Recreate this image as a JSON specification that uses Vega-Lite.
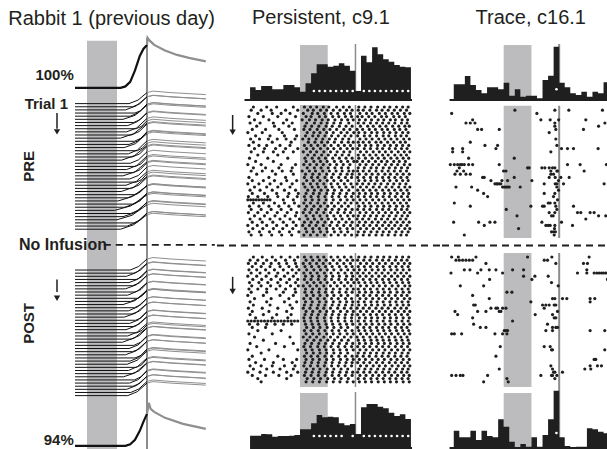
{
"$schema": "https://vega.github.io/schema/vega-lite/v6.json",
"background": "white",
"padding": 0,
"spacing": 0,
"config": {"view": {"stroke": null}, "concat": {"spacing": 0}},
"datasets": {
"eyeAvg": [
{"r":0,"s":"C","t":[-100,280,320,360,400,440,470,500],"a":[0,0,0.03,0.12,0.35,0.64,0.78,0.86]},
{"r":0,"s":"U","t":[500,505,520,560,650,750,850,990],"a":[0.86,1,0.95,0.86,0.75,0.66,0.6,0.53]},
{"r":114,"s":"C","t":[-100,320,360,400,440,470,500],"a":[0,0,0.03,0.12,0.3,0.48,0.64]},
{"r":114,"s":"U","t":[500,515,530,560,650,800,990],"a":[0.64,0.86,0.74,0.68,0.56,0.44,0.34]}
],
"eyeTrials": [
{"r":5,"s":"C","t":[-100,350,425,500],"a":[0,0,0.07,0.22]},{"r":5,"s":"U","t":[500,550,700,990],"a":[0.22,0.25,0.22,0.18]},
{"r":6,"s":"C","t":[-100,380,440,500],"a":[0,0,0.06,0.2]},{"r":6,"s":"U","t":[500,550,700,990],"a":[0.2,0.23,0.2,0.16]},
{"r":7,"s":"C","t":[-100,320,410,500],"a":[0,0,0.08,0.26]},{"r":7,"s":"U","t":[500,550,700,990],"a":[0.26,0.29,0.26,0.22]},
{"r":8,"s":"C","t":[-100,400,450,500],"a":[0,0,0.05,0.18]},{"r":8,"s":"U","t":[500,550,700,990],"a":[0.18,0.21,0.18,0.14]},
{"r":9,"s":"C","t":[-100,360,430,500],"a":[0,0,0.07,0.24]},{"r":9,"s":"U","t":[500,550,700,990],"a":[0.24,0.27,0.24,0.2]},
{"r":10,"s":"C","t":[-100,300,400,500],"a":[0,0,0.08,0.28]},{"r":10,"s":"U","t":[500,550,700,990],"a":[0.28,0.31,0.28,0.24]},
{"r":11,"s":"C","t":[-100,390,445,500],"a":[0,0,0.06,0.2]},{"r":11,"s":"U","t":[500,550,700,990],"a":[0.2,0.23,0.2,0.16]},
{"r":12,"s":"C","t":[-100,340,420,500],"a":[0,0,0.08,0.25]},{"r":12,"s":"U","t":[500,550,700,990],"a":[0.25,0.28,0.25,0.21]},
{"r":13,"s":"C","t":[-100,410,455,500],"a":[0,0,0.05,0.16]},{"r":13,"s":"U","t":[500,550,700,990],"a":[0.16,0.19,0.16,0.12]},
{"r":14,"s":"C","t":[-100,330,415,500],"a":[0,0,0.08,0.27]},{"r":14,"s":"U","t":[500,550,700,990],"a":[0.27,0.3,0.27,0.23]},
{"r":15,"s":"C","t":[-100,370,435,500],"a":[0,0,0.07,0.22]},{"r":15,"s":"U","t":[500,550,700,990],"a":[0.22,0.25,0.22,0.18]},
{"r":16,"s":"C","t":[-100,280,390,500],"a":[0,0,0.09,0.3]},{"r":16,"s":"U","t":[500,550,700,990],"a":[0.3,0.33,0.3,0.26]},
{"r":17,"s":"C","t":[-100,395,448,500],"a":[0,0,0.06,0.19]},{"r":17,"s":"U","t":[500,550,700,990],"a":[0.19,0.22,0.19,0.15]},
{"r":18,"s":"C","t":[-100,350,425,500],"a":[0,0,0.07,0.24]},{"r":18,"s":"U","t":[500,550,700,990],"a":[0.24,0.27,0.24,0.2]},
{"r":19,"s":"C","t":[-100,310,405,500],"a":[0,0,0.08,0.28]},{"r":19,"s":"U","t":[500,550,700,990],"a":[0.28,0.31,0.28,0.24]},
{"r":20,"s":"C","t":[-100,420,460,500],"a":[0,0,0.05,0.15]},{"r":20,"s":"U","t":[500,550,700,990],"a":[0.15,0.18,0.15,0.11]},
{"r":21,"s":"C","t":[-100,345,422,500],"a":[0,0,0.08,0.26]},{"r":21,"s":"U","t":[500,550,700,990],"a":[0.26,0.29,0.26,0.22]},
{"r":22,"s":"C","t":[-100,375,438,500],"a":[0,0,0.06,0.21]},{"r":22,"s":"U","t":[500,550,700,990],"a":[0.21,0.24,0.21,0.17]},
{"r":23,"s":"C","t":[-100,290,395,500],"a":[0,0,0.09,0.29]},{"r":23,"s":"U","t":[500,550,700,990],"a":[0.29,0.32,0.29,0.25]},
{"r":24,"s":"C","t":[-100,360,430,500],"a":[0,0,0.07,0.23]},{"r":24,"s":"U","t":[500,550,700,990],"a":[0.23,0.26,0.23,0.19]},
{"r":25,"s":"C","t":[-100,400,450,500],"a":[0,0,0.05,0.18]},{"r":25,"s":"U","t":[500,550,700,990],"a":[0.18,0.21,0.18,0.14]},
{"r":26,"s":"C","t":[-100,330,415,500],"a":[0,0,0.08,0.27]},{"r":26,"s":"U","t":[500,550,700,990],"a":[0.27,0.3,0.27,0.23]},
{"r":27,"s":"C","t":[-100,385,442,500],"a":[0,0,0.06,0.2]},{"r":27,"s":"U","t":[500,550,700,990],"a":[0.2,0.23,0.2,0.16]},
{"r":28,"s":"C","t":[-100,300,400,500],"a":[0,0,0.08,0.28]},{"r":28,"s":"U","t":[500,550,700,990],"a":[0.28,0.31,0.28,0.24]},
{"r":29,"s":"C","t":[-100,355,428,500],"a":[0,0,0.07,0.24]},{"r":29,"s":"U","t":[500,550,700,990],"a":[0.24,0.27,0.24,0.2]},
{"r":30,"s":"C","t":[-100,410,455,500],"a":[0,0,0.05,0.17]},{"r":30,"s":"U","t":[500,550,700,990],"a":[0.17,0.2,0.17,0.13]},
{"r":31,"s":"C","t":[-100,325,412,500],"a":[0,0,0.08,0.27]},{"r":31,"s":"U","t":[500,550,700,990],"a":[0.27,0.3,0.27,0.23]},
{"r":32,"s":"C","t":[-100,370,435,500],"a":[0,0,0.07,0.22]},{"r":32,"s":"U","t":[500,550,700,990],"a":[0.22,0.25,0.22,0.18]},
{"r":33,"s":"C","t":[-100,285,392,500],"a":[0,0,0.09,0.3]},{"r":33,"s":"U","t":[500,550,700,990],"a":[0.3,0.33,0.3,0.26]},
{"r":34,"s":"C","t":[-100,395,448,500],"a":[0,0,0.06,0.19]},{"r":34,"s":"U","t":[500,550,700,990],"a":[0.19,0.22,0.19,0.15]},
{"r":35,"s":"C","t":[-100,340,420,500],"a":[0,0,0.08,0.25]},{"r":35,"s":"U","t":[500,550,700,990],"a":[0.25,0.28,0.25,0.21]},
{"r":36,"s":"C","t":[-100,260,380,500],"a":[0,0,0.09,0.3]},{"r":36,"s":"U","t":[500,550,700,990],"a":[0.3,0.33,0.3,0.26]},
{"r":37,"s":"C","t":[-100,380,440,500],"a":[0,0,0.06,0.21]},{"r":37,"s":"U","t":[500,550,700,990],"a":[0.21,0.24,0.21,0.17]},
{"r":38,"s":"C","t":[-100,315,408,500],"a":[0,0,0.08,0.28]},{"r":38,"s":"U","t":[500,550,700,990],"a":[0.28,0.31,0.28,0.24]},
{"r":39,"s":"C","t":[-100,230,365,500],"a":[0,0,0.09,0.31]},{"r":39,"s":"U","t":[500,550,700,990],"a":[0.31,0.34,0.31,0.27]},
{"r":40,"s":"C","t":[-100,365,432,500],"a":[0,0,0.07,0.23]},{"r":40,"s":"U","t":[500,550,700,990],"a":[0.23,0.26,0.23,0.19]},
{"r":41,"s":"C","t":[-100,300,400,500],"a":[0,0,0.08,0.28]},{"r":41,"s":"U","t":[500,550,700,990],"a":[0.28,0.31,0.28,0.24]},
{"r":42,"s":"C","t":[-100,250,375,500],"a":[0,0,0.09,0.3]},{"r":42,"s":"U","t":[500,550,700,990],"a":[0.3,0.33,0.3,0.26]},
{"r":43,"s":"C","t":[-100,390,445,500],"a":[0,0,0.06,0.2]},{"r":43,"s":"U","t":[500,550,700,990],"a":[0.2,0.23,0.2,0.16]},
{"r":44,"s":"C","t":[-100,335,418,500],"a":[0,0,0.08,0.26]},{"r":44,"s":"U","t":[500,550,700,990],"a":[0.26,0.29,0.26,0.22]},
{"r":45,"s":"C","t":[-100,280,390,500],"a":[0,0,0.09,0.29]},{"r":45,"s":"U","t":[500,550,700,990],"a":[0.29,0.32,0.29,0.25]},
{"r":58,"s":"C","t":[-100,360,430,500],"a":[0,0,0.07,0.22]},{"r":58,"s":"U","t":[500,550,700,990],"a":[0.22,0.25,0.22,0.18]},
{"r":59,"s":"C","t":[-100,390,445,500],"a":[0,0,0.06,0.19]},{"r":59,"s":"U","t":[500,550,700,990],"a":[0.19,0.22,0.19,0.15]},
{"r":60,"s":"C","t":[-100,330,415,500],"a":[0,0,0.08,0.26]},{"r":60,"s":"U","t":[500,550,700,990],"a":[0.26,0.29,0.26,0.22]},
{"r":61,"s":"C","t":[-100,410,455,500],"a":[0,0,0.05,0.17]},{"r":61,"s":"U","t":[500,550,700,990],"a":[0.17,0.2,0.17,0.13]},
{"r":62,"s":"C","t":[-100,350,425,500],"a":[0,0,0.07,0.24]},{"r":62,"s":"U","t":[500,550,700,990],"a":[0.24,0.27,0.24,0.2]},
{"r":63,"s":"C","t":[-100,380,440,500],"a":[0,0,0.06,0.21]},{"r":63,"s":"U","t":[500,550,700,990],"a":[0.21,0.24,0.21,0.17]},
{"r":64,"s":"C","t":[-100,320,410,500],"a":[0,0,0.08,0.27]},{"r":64,"s":"U","t":[500,550,700,990],"a":[0.27,0.3,0.27,0.23]},
{"r":65,"s":"C","t":[-100,400,450,500],"a":[0,0,0.05,0.18]},{"r":65,"s":"U","t":[500,550,700,990],"a":[0.18,0.21,0.18,0.14]},
{"r":66,"s":"C","t":[-100,340,420,500],"a":[0,0,0.08,0.25]},{"r":66,"s":"U","t":[500,550,700,990],"a":[0.25,0.28,0.25,0.21]},
{"r":67,"s":"C","t":[-100,420,460,500],"a":[0,0,0.05,0.15]},{"r":67,"s":"U","t":[500,550,700,990],"a":[0.15,0.18,0.15,0.11]},
{"r":68,"s":"C","t":[-100,365,432,500],"a":[0,0,0.07,0.23]},{"r":68,"s":"U","t":[500,550,700,990],"a":[0.23,0.26,0.23,0.19]},
{"r":69,"s":"C","t":[-100,300,400,500],"a":[0,0,0.08,0.28]},{"r":69,"s":"U","t":[500,550,700,990],"a":[0.28,0.31,0.28,0.24]},
{"r":70,"s":"C","t":[-100,395,448,500],"a":[0,0,0.06,0.19]},{"r":70,"s":"U","t":[500,550,700,990],"a":[0.19,0.22,0.19,0.15]},
{"r":71,"s":"C","t":[-100,345,422,500],"a":[0,0,0.08,0.25]},{"r":71,"s":"U","t":[500,550,700,990],"a":[0.25,0.28,0.25,0.21]},
{"r":72,"s":"C","t":[-100,375,438,500],"a":[0,0,0.06,0.21]},{"r":72,"s":"U","t":[500,550,700,990],"a":[0.21,0.24,0.21,0.17]},
{"r":73,"s":"C","t":[-100,310,405,500],"a":[0,0,0.08,0.27]},{"r":73,"s":"U","t":[500,550,700,990],"a":[0.27,0.3,0.27,0.23]},
{"r":74,"s":"C","t":[-100,405,452,500],"a":[0,0,0.05,0.17]},{"r":74,"s":"U","t":[500,550,700,990],"a":[0.17,0.2,0.17,0.13]},
{"r":75,"s":"C","t":[-100,355,428,500],"a":[0,0,0.07,0.24]},{"r":75,"s":"U","t":[500,550,700,990],"a":[0.24,0.27,0.24,0.2]},
{"r":76,"s":"C","t":[-100,385,442,500],"a":[0,0,0.06,0.2]},{"r":76,"s":"U","t":[500,550,700,990],"a":[0.2,0.23,0.2,0.16]},
{"r":77,"s":"C","t":[-100,325,412,500],"a":[0,0,0.08,0.26]},{"r":77,"s":"U","t":[500,550,700,990],"a":[0.26,0.29,0.26,0.22]},
{"r":78,"s":"C","t":[-100,415,458,500],"a":[0,0,0.05,0.16]},{"r":78,"s":"U","t":[500,550,700,990],"a":[0.16,0.19,0.16,0.12]},
{"r":79,"s":"C","t":[-100,340,420,500],"a":[0,0,0.08,0.25]},{"r":79,"s":"U","t":[500,550,700,990],"a":[0.25,0.28,0.25,0.21]},
{"r":80,"s":"C","t":[-100,370,435,500],"a":[0,0,0.07,0.22]},{"r":80,"s":"U","t":[500,550,700,990],"a":[0.22,0.25,0.22,0.18]},
{"r":81,"s":"C","t":[-100,295,398,500],"a":[0,0,0.09,0.29]},{"r":81,"s":"U","t":[500,550,700,990],"a":[0.29,0.32,0.29,0.25]},
{"r":82,"s":"C","t":[-100,390,445,500],"a":[0,0,0.06,0.19]},{"r":82,"s":"U","t":[500,550,700,990],"a":[0.19,0.22,0.19,0.15]},
{"r":83,"s":"C","t":[-100,350,425,500],"a":[0,0,0.07,0.24]},{"r":83,"s":"U","t":[500,550,700,990],"a":[0.24,0.27,0.24,0.2]},
{"r":84,"s":"C","t":[-100,380,440,500],"a":[0,0,0.06,0.21]},{"r":84,"s":"U","t":[500,550,700,990],"a":[0.21,0.24,0.21,0.17]},
{"r":85,"s":"C","t":[-100,320,410,500],"a":[0,0,0.08,0.27]},{"r":85,"s":"U","t":[500,550,700,990],"a":[0.27,0.3,0.27,0.23]},
{"r":86,"s":"C","t":[-100,400,450,500],"a":[0,0,0.05,0.18]},{"r":86,"s":"U","t":[500,550,700,990],"a":[0.18,0.21,0.18,0.14]},
{"r":87,"s":"C","t":[-100,360,430,500],"a":[0,0,0.07,0.23]},{"r":87,"s":"U","t":[500,550,700,990],"a":[0.23,0.26,0.23,0.19]},
{"r":88,"s":"C","t":[-100,335,418,500],"a":[0,0,0.08,0.26]},{"r":88,"s":"U","t":[500,550,700,990],"a":[0.26,0.29,0.26,0.22]},
{"r":89,"s":"C","t":[-100,410,455,500],"a":[0,0,0.05,0.17]},{"r":89,"s":"U","t":[500,550,700,990],"a":[0.17,0.2,0.17,0.13]},
{"r":90,"s":"C","t":[-100,345,422,500],"a":[0,0,0.08,0.25]},{"r":90,"s":"U","t":[500,550,700,990],"a":[0.25,0.28,0.25,0.21]},
{"r":91,"s":"C","t":[-100,375,438,500],"a":[0,0,0.06,0.21]},{"r":91,"s":"U","t":[500,550,700,990],"a":[0.21,0.24,0.21,0.17]},
{"r":92,"s":"C","t":[-100,305,402,500],"a":[0,0,0.08,0.28]},{"r":92,"s":"U","t":[500,550,700,990],"a":[0.28,0.31,0.28,0.24]},
{"r":93,"s":"C","t":[-100,395,448,500],"a":[0,0,0.06,0.19]},{"r":93,"s":"U","t":[500,550,700,990],"a":[0.19,0.22,0.19,0.15]},
{"r":94,"s":"C","t":[-100,355,428,500],"a":[0,0,0.07,0.24]},{"r":94,"s":"U","t":[500,550,700,990],"a":[0.24,0.27,0.24,0.2]},
{"r":95,"s":"C","t":[-100,385,442,500],"a":[0,0,0.06,0.2]},{"r":95,"s":"U","t":[500,550,700,990],"a":[0.2,0.23,0.2,0.16]},
{"r":96,"s":"C","t":[-100,330,415,500],"a":[0,0,0.08,0.26]},{"r":96,"s":"U","t":[500,550,700,990],"a":[0.26,0.29,0.26,0.22]},
{"r":97,"s":"C","t":[-100,365,432,500],"a":[0,0,0.07,0.22]},{"r":97,"s":"U","t":[500,550,700,990],"a":[0.22,0.25,0.22,0.18]},
{"r":98,"s":"C","t":[-100,340,420,500],"a":[0,0,0.08,0.25]},{"r":98,"s":"U","t":[500,550,700,990],"a":[0.25,0.28,0.25,0.21]}
],
"histMidTop": [
{"t":-450,"h":12.7,"s":0},{"t":-400,"h":10,"s":0},{"t":-350,"h":14,"s":0},{"t":-300,"h":14,"s":0},{"t":-250,"h":10.7,"s":0},{"t":-200,"h":10.7,"s":0},{"t":-150,"h":15,"s":0},{"t":-100,"h":15,"s":0},{"t":-50,"h":12.7,"s":0},{"t":0,"h":8.3,"s":0},{"t":50,"h":16.7,"s":0},{"t":100,"h":26.7,"s":1},{"t":150,"h":35.7,"s":1},{"t":200,"h":35.7,"s":1},{"t":250,"h":33.3,"s":1},{"t":300,"h":34.3,"s":1},{"t":350,"h":36.7,"s":1},{"t":400,"h":34.3,"s":1},{"t":450,"h":29.3,"s":1},{"t":500,"h":9,"s":0},{"t":550,"h":44.3,"s":1},{"t":600,"h":37.7,"s":1},{"t":650,"h":52.7,"s":1},{"t":700,"h":45.7,"s":1},{"t":750,"h":40.7,"s":1},{"t":800,"h":38.3,"s":1},{"t":850,"h":35,"s":1},{"t":900,"h":33.3,"s":1},{"t":950,"h":32.7,"s":1},{"t":1000,"h":32.7,"s":0}
],
"histMidBot": [
{"t":-450,"h":12.3,"s":0},{"t":-400,"h":12.3,"s":0},{"t":-350,"h":14,"s":0},{"t":-300,"h":13.7,"s":0},{"t":-250,"h":11.3,"s":0},{"t":-200,"h":12,"s":0},{"t":-150,"h":12,"s":0},{"t":-100,"h":12.3,"s":0},{"t":-50,"h":13,"s":0},{"t":0,"h":18.7,"s":0},{"t":50,"h":18.7,"s":0},{"t":100,"h":24.7,"s":1},{"t":150,"h":33,"s":1},{"t":200,"h":30.7,"s":1},{"t":250,"h":31.3,"s":1},{"t":300,"h":30.7,"s":1},{"t":350,"h":24.7,"s":1},{"t":400,"h":22.7,"s":0},{"t":450,"h":24,"s":1},{"t":500,"h":14,"s":0},{"t":550,"h":40.7,"s":1},{"t":600,"h":44,"s":1},{"t":650,"h":44,"s":1},{"t":700,"h":41.3,"s":1},{"t":750,"h":39.7,"s":1},{"t":800,"h":35.3,"s":1},{"t":850,"h":32,"s":1},{"t":900,"h":33.7,"s":1},{"t":950,"h":29,"s":1},{"t":1000,"h":29,"s":0}
],
"histRightTop": [
{"t":-450,"h":15.7,"s":0},{"t":-400,"h":15.7,"s":0},{"t":-350,"h":24,"s":0},{"t":-300,"h":15,"s":0},{"t":-250,"h":10,"s":0},{"t":-200,"h":6.7,"s":0},{"t":-150,"h":12.7,"s":0},{"t":-100,"h":12.7,"s":0},{"t":-50,"h":10.7,"s":0},{"t":0,"h":17.3,"s":0},{"t":50,"h":4.3,"s":0},{"t":100,"h":10.7,"s":0},{"t":150,"h":3.3,"s":0},{"t":200,"h":4.3,"s":0},{"t":250,"h":4.3,"s":0},{"t":300,"h":1.7,"s":0},{"t":350,"h":20,"s":0},{"t":400,"h":24.3,"s":0},{"t":450,"h":53.3,"s":1},{"t":500,"h":17.3,"s":0},{"t":550,"h":12.7,"s":0},{"t":600,"h":6.7,"s":0},{"t":650,"h":5,"s":0},{"t":700,"h":8.3,"s":0},{"t":750,"h":3.3,"s":0},{"t":800,"h":8.3,"s":0},{"t":850,"h":6.7,"s":0},{"t":900,"h":17.7,"s":0},{"t":950,"h":17.7,"s":0},{"t":1000,"h":17.7,"s":0}
],
"histRightBot": [
{"t":-450,"h":17.3,"s":0},{"t":-400,"h":10.7,"s":0},{"t":-350,"h":10.7,"s":0},{"t":-300,"h":17.3,"s":0},{"t":-250,"h":8,"s":0},{"t":-200,"h":17.3,"s":0},{"t":-150,"h":12,"s":0},{"t":-100,"h":10.7,"s":0},{"t":-50,"h":28.7,"s":0},{"t":0,"h":21.3,"s":0},{"t":50,"h":6.3,"s":0},{"t":100,"h":0.7,"s":0},{"t":150,"h":4,"s":0},{"t":200,"h":1.3,"s":0},{"t":250,"h":10.7,"s":0},{"t":300,"h":1.3,"s":0},{"t":350,"h":13,"s":0},{"t":400,"h":28.7,"s":0},{"t":450,"h":57.3,"s":1},{"t":500,"h":10.7,"s":0},{"t":550,"h":2,"s":0},{"t":600,"h":0.3,"s":0},{"t":650,"h":1.3,"s":0},{"t":700,"h":1.3,"s":0},{"t":750,"h":19.7,"s":0},{"t":800,"h":18.7,"s":0},{"t":850,"h":16.3,"s":0},{"t":900,"h":14.7,"s":0},{"t":950,"h":14.7,"s":0},{"t":1000,"h":14.7,"s":0}
],
"rasMidPre": [
{"k":1,"t":[-420,-300,-210,-60,40,95,150,210,260,330,390,445,530,585,640,700,760,810,870,925,975]},
{"k":2,"t":[-440,-350,-260,-130,-20,70,120,185,240,300,360,420,470,525,570,630,690,740,795,850,905,960]},
{"k":3,"t":[-380,-250,-170,-90,30,110,160,220,280,340,400,455,540,600,650,715,770,830,880,940,990]},
{"k":4,"t":[-460,-330,-200,-40,55,100,175,230,295,350,410,465,520,560,620,675,735,780,845,895,950]},
{"k":5,"t":[-410,-280,-120,20,85,140,200,255,315,375,430,480,535,590,645,705,755,815,860,920,970]},
{"k":6,"t":[-450,-360,-240,-150,-70,60,130,190,245,305,365,440,525,575,635,690,745,800,855,915,965]},
{"k":7,"t":[-390,-230,-100,45,105,170,235,290,355,415,470,545,610,660,720,775,835,890,945,985]},
{"k":8,"t":[-430,-310,-190,-50,35,90,155,215,270,330,395,450,515,565,625,680,740,790,850,900,955]},
{"k":9,"t":[-470,-340,-160,65,125,180,240,300,370,425,485,530,585,645,695,755,810,865,925,975]},
{"k":10,"t":[-400,-270,-140,-30,50,115,165,225,285,345,405,460,520,580,630,690,750,800,860,910,960]},
{"k":11,"t":[-445,-365,-285,-205,-125,-45,25,80,145,205,265,320,385,440,540,595,650,710,765,820,875,935,985]},
{"k":12,"t":[-420,-250,-80,75,135,195,250,310,375,435,480,525,570,625,685,730,790,845,905,950]},
{"k":13,"t":[-460,-370,-300,-180,-90,40,100,160,220,280,345,400,455,535,590,640,700,760,815,870,925,980]},
{"k":14,"t":[-410,-320,-220,-130,-20,60,120,185,250,305,365,425,475,520,580,635,695,745,805,860,915,965]},
{"k":15,"t":[-440,-330,-240,-150,-60,30,95,150,215,275,335,395,450,545,600,660,715,770,825,885,940,990]},
{"k":16,"t":[-380,-200,70,130,195,255,320,380,440,525,575,630,685,745,795,855,910,960]},
{"k":17,"t":[-455,-290,-110,45,110,170,230,295,355,415,470,530,590,650,705,760,820,875,930,980]},
{"k":18,"t":[-400,-240,55,125,185,245,310,370,430,485,515,565,620,680,735,785,845,895,950]},
{"k":19,"t":[-470,-350,-170,-40,35,90,150,210,270,330,390,450,540,595,655,710,770,825,880,940,990]},
{"k":20,"t":[-420,-310,-190,-70,65,130,190,255,315,375,435,525,580,640,690,750,805,860,915,970]},
{"k":21,"t":[-440,-340,-250,-160,-80,20,85,140,205,265,325,380,440,480,520,570,625,685,740,795,850,905,960]},
{"k":22,"t":[-390,-220,-60,50,115,175,240,300,365,425,470,535,595,650,705,765,815,875,930,985]},
{"k":23,"t":[-460,-280,-130,40,105,160,225,285,350,410,465,520,575,635,690,745,800,855,910,965]},
{"k":24,"t":[-430,-330,-230,-120,-30,60,120,180,245,305,370,430,530,585,640,695,755,810,870,925,975]},
{"k":25,"t":[-470,-370,-270,-170,-70,30,95,155,215,280,340,400,460,515,565,620,675,730,790,845,900,955]},
{"k":26,"t":[-410,-300,-200,-90,45,110,165,230,290,355,415,475,545,600,660,715,775,830,890,945,990]},
{"k":27,"t":[-450,-360,-250,-140,-40,70,130,190,250,310,375,440,520,570,630,685,745,800,855,910,965]},
{"k":28,"t":[-430,-320,-210,-100,-15,55,120,175,240,300,360,420,480,535,590,645,700,760,815,875,930,980]},
{"k":29,"t":[-465,-380,-290,-200,-110,-25,40,100,165,225,290,350,410,465,525,580,635,690,750,805,860,915,970]},
{"k":30,"t":[-470,-445,-420,-395,-370,-345,-320,-295,-270,-150,-60,50,110,170,235,300,365,425,480,540,595,655,710,765,825,880,935,985]},
{"k":31,"t":[-420,-330,-230,-140,-50,35,95,160,220,285,345,405,460,515,570,625,680,740,795,850,905,960]},
{"k":32,"t":[-455,-370,-280,-190,-100,-10,60,125,185,250,310,375,435,530,585,640,700,755,810,870,925,975]},
{"k":33,"t":[-440,-350,-260,-170,-80,45,105,165,230,290,350,410,470,520,575,630,690,745,800,860,915,965]},
{"k":34,"t":[-465,-380,-295,-205,-115,-30,30,90,150,215,275,340,400,455,540,595,655,710,770,825,880,940,990]},
{"k":35,"t":[-410,-320,-225,-135,-40,55,120,180,245,305,365,430,480,525,580,635,690,750,805,865,920,970]},
{"k":36,"t":[-450,-360,-270,-180,-90,-5,70,130,195,255,320,380,445,515,565,620,680,735,790,850,905,955]},
{"k":37,"t":[-430,-340,-245,-150,-60,40,100,160,225,285,350,415,470,535,590,650,705,765,820,875,930,985]},
{"k":38,"t":[-470,-385,-300,-210,-120,-35,25,85,145,210,270,335,395,455,520,575,630,690,745,800,855,910,965]},
{"k":39,"t":[-425,-335,-240,-155,-65,50,115,175,240,300,360,425,475,545,600,660,715,775,830,890,945,990]},
{"k":40,"t":[-460,-365,-275,-185,-95,-10,60,120,185,245,310,370,430,525,580,640,695,750,805,865,920,975]},
{"k":41,"t":[-440,-350,-255,-165,-75,35,95,155,220,280,345,405,465,515,570,625,685,740,795,855,910,960]}
],
"rasMidPost": [
{"k":1,"t":[-420,-340,-250,-170,-90,-20,40,100,160,215,280,340,400,460,530,585,640,700,755,810,870,925,980]},
{"k":2,"t":[-450,-380,-300,-220,-130,-50,55,115,175,235,300,360,425,475,520,575,630,690,745,800,860,915,965]},
{"k":3,"t":[-465,-400,-330,-260,-190,-120,-40,30,90,150,210,270,335,395,455,545,600,655,715,770,830,885,940,990]},
{"k":4,"t":[-430,-350,-270,-180,-100,-30,45,105,170,230,290,355,415,470,525,580,635,695,750,810,865,920,975]},
{"k":5,"t":[-460,-390,-310,-230,-150,-70,-10,60,125,185,245,305,370,430,485,535,590,650,705,760,820,875,930,985]},
{"k":6,"t":[-440,-360,-280,-200,-110,-35,35,95,155,220,280,345,405,465,520,570,625,685,740,795,855,910,960]},
{"k":7,"t":[-470,-390,-305,-215,-140,-60,50,110,170,235,295,355,420,475,540,595,650,710,765,825,880,935,990]},
{"k":8,"t":[-425,-345,-260,-175,-95,-20,40,100,165,225,285,350,410,465,515,570,630,685,745,800,855,915,970]},
{"k":9,"t":[-455,-370,-290,-200,-120,-40,65,125,185,245,310,370,430,485,530,585,640,695,755,810,870,925,980]},
{"k":10,"t":[-435,-350,-265,-180,-85,-15,30,90,150,215,275,335,400,460,545,600,660,715,770,830,885,945,990]},
{"k":11,"t":[-460,-380,-300,-215,-130,-45,50,115,175,235,300,360,425,480,525,580,635,695,750,805,865,920,975]},
{"k":12,"t":[-440,-300,-150,-40,45,105,170,230,290,355,415,470,535,590,645,705,760,815,875,930,985]},
{"k":13,"t":[-470,-330,-180,-60,60,120,180,245,305,370,430,520,575,630,690,745,800,860,915,965]},
{"k":14,"t":[-410,-260,-100,35,95,160,220,285,345,410,465,540,595,655,710,770,825,880,940,990]},
{"k":15,"t":[-450,-300,-140,-30,50,110,175,235,300,360,420,475,525,580,640,695,750,810,865,920,975]},
{"k":16,"t":[-420,-270,-90,40,100,165,225,290,350,410,470,530,590,645,700,760,815,875,930,980]},
{"k":17,"t":[-465,-340,-200,-70,30,90,155,215,275,340,400,460,515,570,625,685,740,795,855,910,960]},
{"k":18,"t":[-430,-280,-120,55,115,180,240,300,365,425,480,545,600,655,715,770,825,885,940,990]},
{"k":19,"t":[-450,-330,-210,-80,45,105,165,230,290,350,410,470,520,575,635,690,745,805,860,915,970]},
{"k":20,"t":[-400,-250,-110,35,95,155,220,280,345,405,465,535,590,645,700,760,815,870,930,985]},
{"k":21,"t":[-470,-440,-410,-380,-350,-320,-290,-260,-230,-200,-170,-140,-110,-80,-50,-20,40,100,160,225,285,345,405,465,525,580,640,695,750,810,865,920,975]},
{"k":22,"t":[-455,-380,-300,-225,-150,-75,50,110,170,235,295,360,420,475,540,595,650,710,765,820,880,935,990]},
{"k":23,"t":[-430,-310,60,120,180,245,305,370,430,520,575,630,690,745,800,860,915,965]},
{"k":24,"t":[-380,-170,40,100,165,225,290,350,410,470,530,585,640,700,755,810,870,925,980]},
{"k":25,"t":[-460,-250,55,115,175,240,300,360,425,480,545,600,655,715,770,825,885,940,990]},
{"k":26,"t":[-410,-90,30,90,150,215,275,340,400,460,515,570,630,685,740,800,855,910,965]},
{"k":27,"t":[-330,65,125,185,250,310,375,435,525,580,640,695,750,805,865,920,975]},
{"k":28,"t":[-450,-220,-60,45,105,170,230,295,355,420,475,535,590,645,705,760,815,875,930,985]},
{"k":29,"t":[-390,-140,35,95,160,220,280,345,405,465,520,575,630,690,745,800,860,915,970]},
{"k":30,"t":[-470,-280,-20,50,110,175,235,300,360,420,480,540,595,655,710,765,825,880,935,990]},
{"k":31,"t":[-350,60,120,180,240,305,365,430,525,580,635,690,750,805,860,920,975]},
{"k":32,"t":[-430,-200,40,100,160,225,285,350,410,470,515,570,625,685,740,795,855,910,965]},
{"k":33,"t":[-460,-320,-150,-30,55,115,175,240,300,365,425,480,535,590,650,705,760,820,875,930,985]},
{"k":34,"t":[-400,-240,-70,45,105,165,230,290,355,415,470,520,575,630,690,745,805,860,915,970]},
{"k":35,"t":[-450,-350,-250,-140,-45,35,95,160,220,285,345,405,465,545,600,660,715,770,830,885,940,990]},
{"k":36,"t":[-420,-300,-180,-60,60,120,180,245,305,370,430,530,585,640,700,755,810,870,925,975]},
{"k":37,"t":[-470,-360,-240,-120,-20,50,110,170,235,295,360,420,475,520,575,630,685,745,800,855,915,965]},
{"k":38,"t":[-430,-310,-190,-80,40,100,165,225,290,350,410,470,540,595,655,710,765,825,880,935,985]},
{"k":39,"t":[-380,-120,65,125,185,250,310,370,435,525,580,640,695,750,810,865,920,975]},
{"k":40,"t":[-350,55,115,175,240,300,360,425,480,535,590,645,705,760,815,870,930,985]}
],
"rasRightPre": [
{"k":2,"t":[101,461,587,890]},{"k":3,"t":[-469,299]},{"k":5,"t":[-280,335,419,495,740]},{"k":6,"t":[-340,-301,-259,461,912]},{"k":7,"t":[461,855]},{"k":8,"t":[-235,-199,-40,470,719]},{"k":9,"t":[410]},{"k":11,"t":[470]},{"k":12,"t":[-301]},{"k":13,"t":[-169,-55,479]},{"k":14,"t":[-460,-370,-70,521,575,629,851]},{"k":15,"t":[-460,-370,425]},{"k":17,"t":[-316,95]},{"k":19,"t":[-481,-445,-415,-391,-376,-355,-316,-280,-40,575,689,926]},{"k":20,"t":[-400,215,230,344,371,410,440,461]},{"k":21,"t":[-421,-361,-1,20,425,479,485,725]},{"k":22,"t":[-439,-391,-340,-301,425,449]},{"k":23,"t":[-190,-175,95,410,464,515,590]},{"k":24,"t":[-115,-16,35,254,494]},{"k":25,"t":[-79,-64,-55,-40,-25,365,464,479,539,905]},{"k":26,"t":[-430,-289,-10,5,20,35,50,149,479]},{"k":27,"t":[-235,494]},{"k":28,"t":[-181,365,461]},{"k":29,"t":[-145,449]},{"k":30,"t":[485]},{"k":31,"t":[-445,401,419,461]},{"k":32,"t":[-301,245,350,365,470,629]},{"k":33,"t":[23,479]},{"k":34,"t":[410,461,665,695,779,815]},{"k":35,"t":[120,431,446,855,920]},{"k":36,"t":[740]},{"k":37,"t":[-451,-226,-124,-79,344,521]},{"k":38,"t":[-175,380,401,419,461,620]},{"k":39,"t":[134,458]},{"k":40,"t":[431,449,466]},{"k":41,"t":[-355,455]}
],
"rasRightPost": [
{"k":1,"t":[-469,-409,-250,215,434,770]},{"k":2,"t":[-430,-400,-370,-340,-310,-280,365,395]},{"k":3,"t":[-160,470,719,755]},{"k":5,"t":[-355,-304,-205,-130,-70,80,179,749]},{"k":6,"t":[-475,-235,-10,665,749,815,839,860,881,899,920]},{"k":7,"t":[179,281,401]},{"k":8,"t":[-127,254,935]},{"k":9,"t":[431]},{"k":10,"t":[-391,-181,491]},{"k":12,"t":[29,74]},{"k":13,"t":[-280]},{"k":14,"t":[-130,440,461,530,569,779,821]},{"k":15,"t":[245,779]},{"k":16,"t":[-271,-256,350,380,410,455,470]},{"k":17,"t":[-115,-70,-55,-10,20,365]},{"k":18,"t":[-439,-235,-160,-40,-25,485]},{"k":19,"t":[-415,284,440]},{"k":20,"t":[-280,455,470]},{"k":21,"t":[80]},{"k":22,"t":[-271,395]},{"k":23,"t":[-211,-160,440,470,485]},{"k":24,"t":[5,20,35,380,440,779,911]},{"k":25,"t":[-469,-445,-379,-79,-10,29]},{"k":29,"t":[-31,365,419]},{"k":30,"t":[431,440,911]},{"k":32,"t":[-70]},{"k":33,"t":[815,830]},{"k":35,"t":[425,779,845,881]},{"k":36,"t":[-40,440,731,785]},{"k":37,"t":[449,461,530]},{"k":38,"t":[-469,-430,-391,-367,-145,335,431,440,479]},{"k":39,"t":[29,461]},{"k":40,"t":[-181,41]}
]
},
"hconcat": [
{
"width": 216, "height": 449,
"encoding": {
"x": {"field": "t", "type": "quantitative", "scale": {"domain": [-725, 1075], "nice": false, "zero": false}, "axis": null},
"y": {"field": "r", "type": "ordinal", "scale": {"type": "point", "padding": 0, "domain": [-28,-27,-26,-25,-24,-23,-22,-21,-20,-19,-18,-17,-16,-15,-14,-13,-12,-11,-10,-9,-8,-7,-6,-5,-4,-3,-2,-1,0,1,2,3,4,5,6,7,8,9,10,11,12,13,14,15,16,17,18,19,20,21,22,23,24,25,26,27,28,29,30,31,32,33,34,35,36,37,38,39,40,41,42,43,44,45,46,47,48,49,50,51,52,53,54,55,56,57,58,59,60,61,62,63,64,65,66,67,68,69,70,71,72,73,74,75,76,77,78,79,80,81,82,83,84,85,86,87,88,89,90,91,92,93,94,95,96,97,98,99,100,101,102,103,104,105,106,107,108,109,110,111,112,113,114,115]}, "axis": null}
},
"layer": [
{"data": {"values": [{"t": 0, "t2": 250, "r": -15, "r2": 115}]}, "mark": {"type": "rect", "color": "#bcbcbf"}, "encoding": {"x2": {"field": "t2"}, "y2": {"field": "r2"}}},
{"data": {"values": [{"t": 500, "r": -16, "r2": 115}]}, "mark": {"type": "rule", "color": "#8c8c8c", "strokeWidth": 2}, "encoding": {"y2": {"field": "r2"}}},
{"data": {"name": "eyeTrials"}, "transform": [{"flatten": ["t", "a"]}], "mark": {"type": "line", "strokeWidth": 1},
 "encoding": {"yOffset": {"field": "a", "type": "quantitative", "scale": {"domain": [0, 1], "range": [0, -50]}}, "color": {"field": "s", "type": "nominal", "scale": {"domain": ["C", "U"], "range": ["#111111", "#8f8f8f"]}, "legend": null}, "detail": {"field": "r"}, "order": {"field": "t", "type": "quantitative"}}},
{"data": {"name": "eyeAvg"}, "transform": [{"flatten": ["t", "a"]}], "mark": {"type": "line", "strokeWidth": 2.2},
 "encoding": {"yOffset": {"field": "a", "type": "quantitative", "scale": {"domain": [0, 1], "range": [0, -50]}}, "color": {"field": "s", "type": "nominal", "scale": {"domain": ["C", "U"], "range": ["#111111", "#8f8f8f"]}, "legend": null}, "detail": {"field": "r"}, "order": {"field": "t", "type": "quantitative"}}},
{"data": {"values": [{"t": 140, "t2": 1065, "r": 50}]}, "mark": {"type": "rule", "color": "#1f1f1f", "strokeWidth": 1.8, "strokeDash": [7, 5]}, "encoding": {"x2": {"field": "t2"}}},
{"data": {"values": [{"t": -250, "r": 8, "r2": 13}, {"t": -250, "r": 61, "r2": 65}]}, "mark": {"type": "rule", "color": "#1f1f1f", "strokeWidth": 1.5}, "encoding": {"y2": {"field": "r2"}}},
{"data": {"values": [{"t": -250, "r": 14}, {"t": -250, "r": 67}]}, "mark": {"type": "point", "shape": "triangle-down", "filled": true, "size": 40, "color": "#1f1f1f", "opacity": 1}},
{"data": {"values": [{"txt": "Rabbit 1 (previous day)", "t": 205, "r": -22}]}, "mark": {"type": "text", "font": "Liberation Sans", "fontSize": 20, "align": "center", "baseline": "middle", "color": "#231f20"}, "encoding": {"text": {"field": "txt"}}},
{"data": {"values": [{"txt": "100%", "t": -110, "r": -4}, {"txt": "Trial 1", "t": -158, "r": 5}, {"txt": "94%", "t": -110, "r": 112}]}, "mark": {"type": "text", "font": "Liberation Sans", "fontSize": 15, "fontWeight": "bold", "align": "right", "baseline": "middle", "color": "#231f20"}, "encoding": {"text": {"field": "txt"}}},
{"data": {"values": [{"txt": "No Infusion", "t": -567, "r": 50}]}, "mark": {"type": "text", "font": "Liberation Sans", "fontSize": 16, "fontWeight": "bold", "align": "left", "baseline": "middle", "color": "#231f20"}, "encoding": {"text": {"field": "txt"}}},
{"data": {"values": [{"txt": "PRE", "t": -483, "r": 25}, {"txt": "POST", "t": -483, "r": 75}]}, "mark": {"type": "text", "font": "Liberation Sans", "fontSize": 15, "fontWeight": "bold", "align": "center", "baseline": "middle", "angle": 270, "color": "#231f20"}, "encoding": {"text": {"field": "txt"}}}
]
},
{
"spacing": 0,
"bounds": "flush",
"vconcat": [
{
"width": 225, "height": 100,
"encoding": {
"x": {"field": "t", "type": "quantitative", "scale": {"domain": [-757, 1271], "nice": false, "zero": false}, "axis": null},
"y": {"field": "h", "type": "quantitative", "scale": {"domain": [0, 100], "nice": false, "zero": false}, "axis": null}
},
"layer": [
{"data": {"values": [{"t": 0, "t2": 250, "h": 0, "h2": 55}]}, "mark": {"type": "rect", "color": "#bcbcbf"}, "encoding": {"x2": {"field": "t2"}, "y2": {"field": "h2"}}},
{"data": {"values": [{"t": 500, "h": 0, "h2": 56}]}, "mark": {"type": "rule", "color": "#8c8c8c", "strokeWidth": 1.5}, "encoding": {"y2": {"field": "h2"}}},
{"data": {"name": "histMidTop"}, "mark": {"type": "area", "interpolate": "step-after", "color": "#1f1f1f", "opacity": 1}},
{"data": {"values": [{"t": -500, "t2": 1010, "h": 0}]}, "mark": {"type": "rule", "color": "#1f1f1f", "strokeWidth": 2}, "encoding": {"x2": {"field": "t2"}}},
{"data": {"name": "histMidTop"}, "transform": [{"filter": "datum.s == 1"}], "mark": {"type": "circle", "color": "white", "opacity": 1, "size": 7, "xOffset": 2.8}, "encoding": {"y": {"datum": 9}}},
{"data": {"values": [{"txt": "Persistent, c9.1", "t": 188, "h": 82}]}, "mark": {"type": "text", "font": "Liberation Sans", "fontSize": 20, "align": "center", "baseline": "middle", "color": "#231f20"}, "encoding": {"text": {"field": "txt"}}}
]
},
{
"width": 225, "height": 145,
"encoding": {
"x": {"field": "t", "type": "quantitative", "scale": {"domain": [-757, 1271], "nice": false, "zero": false}, "axis": null},
"y": {"field": "k", "type": "quantitative", "scale": {"domain": [-1.1875, 44.125], "reverse": true, "nice": false, "zero": false}, "axis": null}
},
"layer": [
{"data": {"values": [{"t": 0, "t2": 250, "k": 0.375, "k2": 41.94}]}, "mark": {"type": "rect", "color": "#bcbcbf"}, "encoding": {"x2": {"field": "t2"}, "y2": {"field": "k2"}}},
{"data": {"values": [{"t": 500, "k": 0.375, "k2": 41.94}]}, "mark": {"type": "rule", "color": "#8c8c8c", "strokeWidth": 1.5}, "encoding": {"y2": {"field": "k2"}}},
{"data": {"name": "rasMidPre"}, "transform": [{"flatten": ["t"]}], "mark": {"type": "circle", "color": "#1f1f1f", "opacity": 1, "size": 10}},
{"data": {"values": [{"t": -607, "k": 3.5, "k2": 8.3}]}, "mark": {"type": "rule", "color": "#1f1f1f", "strokeWidth": 1.5}, "encoding": {"y2": {"field": "k2"}}},
{"data": {"values": [{"t": -607, "k": 8.9}]}, "mark": {"type": "point", "shape": "triangle-down", "filled": true, "size": 40, "color": "#1f1f1f", "opacity": 1}}
]
},
{
"width": 225, "height": 145,
"encoding": {
"x": {"field": "t", "type": "quantitative", "scale": {"domain": [-757, 1271], "nice": false, "zero": false}, "axis": null},
"y": {"field": "k", "type": "quantitative", "scale": {"domain": [-2.75, 42.5625], "reverse": true, "nice": false, "zero": false}, "axis": null}
},
"layer": [
{"data": {"values": [{"t": -748, "t2": 1262, "k": -2.6}]}, "mark": {"type": "rule", "color": "#1f1f1f", "strokeWidth": 1.8, "strokeDash": [7, 5]}, "encoding": {"x2": {"field": "t2"}}},
{"data": {"values": [{"t": 0, "t2": 250, "k": -0.25, "k2": 41.625}]}, "mark": {"type": "rect", "color": "#bcbcbf"}, "encoding": {"x2": {"field": "t2"}, "y2": {"field": "k2"}}},
{"data": {"values": [{"t": 500, "k": -0.25, "k2": 41.625}]}, "mark": {"type": "rule", "color": "#8c8c8c", "strokeWidth": 1.5}, "encoding": {"y2": {"field": "k2"}}},
{"data": {"name": "rasMidPost"}, "transform": [{"flatten": ["t"]}], "mark": {"type": "circle", "color": "#1f1f1f", "opacity": 1, "size": 10}},
{"data": {"values": [{"t": -607, "k": 7.2, "k2": 11.2}]}, "mark": {"type": "rule", "color": "#1f1f1f", "strokeWidth": 1.5}, "encoding": {"y2": {"field": "k2"}}},
{"data": {"values": [{"t": -607, "k": 11.8}]}, "mark": {"type": "point", "shape": "triangle-down", "filled": true, "size": 40, "color": "#1f1f1f", "opacity": 1}}
]
},
{
"width": 225, "height": 59,
"encoding": {
"x": {"field": "t", "type": "quantitative", "scale": {"domain": [-757, 1271], "nice": false, "zero": false}, "axis": null},
"y": {"field": "h", "type": "quantitative", "scale": {"domain": [-1, 58], "nice": false, "zero": false}, "axis": null}
},
"layer": [
{"data": {"values": [{"t": 0, "t2": 250, "h": 0, "h2": 55}]}, "mark": {"type": "rect", "color": "#bcbcbf"}, "encoding": {"x2": {"field": "t2"}, "y2": {"field": "h2"}}},
{"data": {"values": [{"t": 500, "h": 0, "h2": 56}]}, "mark": {"type": "rule", "color": "#8c8c8c", "strokeWidth": 1.5}, "encoding": {"y2": {"field": "h2"}}},
{"data": {"name": "histMidBot"}, "mark": {"type": "area", "interpolate": "step-after", "color": "#1f1f1f", "opacity": 1}},
{"data": {"values": [{"t": -450, "t2": 1010, "h": 0}]}, "mark": {"type": "rule", "color": "#1f1f1f", "strokeWidth": 2}, "encoding": {"x2": {"field": "t2"}}},
{"data": {"name": "histMidBot"}, "transform": [{"filter": "datum.s == 1"}], "mark": {"type": "circle", "color": "white", "opacity": 1, "size": 7, "xOffset": 2.8}, "encoding": {"y": {"datum": 12}}}
]
}
]
},
{
"spacing": 0,
"bounds": "flush",
"vconcat": [
{
"width": 166, "height": 100,
"encoding": {
"x": {"field": "t", "type": "quantitative", "scale": {"domain": [-556, 940], "nice": false, "zero": false}, "axis": null},
"y": {"field": "h", "type": "quantitative", "scale": {"domain": [0, 100], "nice": false, "zero": false}, "axis": null}
},
"layer": [
{"data": {"values": [{"t": 0, "t2": 250, "h": 0, "h2": 55}]}, "mark": {"type": "rect", "color": "#bcbcbf"}, "encoding": {"x2": {"field": "t2"}, "y2": {"field": "h2"}}},
{"data": {"values": [{"t": 500, "h": 0, "h2": 56}]}, "mark": {"type": "rule", "color": "#8c8c8c", "strokeWidth": 2}, "encoding": {"y2": {"field": "h2"}}},
{"data": {"name": "histRightTop"}, "mark": {"type": "area", "interpolate": "step-after", "color": "#1f1f1f", "opacity": 1, "clip": true}},
{"data": {"values": [{"t": -488, "t2": 935, "h": 0}]}, "mark": {"type": "rule", "color": "#1f1f1f", "strokeWidth": 2}, "encoding": {"x2": {"field": "t2"}}},
{"data": {"name": "histRightTop"}, "transform": [{"filter": "datum.s == 1"}], "mark": {"type": "circle", "color": "white", "opacity": 1, "size": 7, "xOffset": 2.8}, "encoding": {"y": {"datum": 10.7}}},
{"data": {"values": [{"txt": "Trace, c16.1", "t": 244, "h": 82}]}, "mark": {"type": "text", "font": "Liberation Sans", "fontSize": 20, "align": "center", "baseline": "middle", "color": "#231f20"}, "encoding": {"text": {"field": "txt"}}}
]
},
{
"width": 166, "height": 145,
"encoding": {
"x": {"field": "t", "type": "quantitative", "scale": {"domain": [-556, 940], "nice": false, "zero": false}, "axis": null},
"y": {"field": "k", "type": "quantitative", "scale": {"domain": [-1.1875, 44.125], "reverse": true, "nice": false, "zero": false}, "axis": null}
},
"layer": [
{"data": {"values": [{"t": 0, "t2": 250, "k": 0.6, "k2": 41.94}]}, "mark": {"type": "rect", "color": "#bcbcbf"}, "encoding": {"x2": {"field": "t2"}, "y2": {"field": "k2"}}},
{"data": {"values": [{"t": 500, "k": 0.6, "k2": 41.94}]}, "mark": {"type": "rule", "color": "#8c8c8c", "strokeWidth": 2}, "encoding": {"y2": {"field": "k2"}}},
{"data": {"name": "rasRightPre"}, "transform": [{"flatten": ["t"]}], "mark": {"type": "circle", "color": "#1f1f1f", "opacity": 1, "size": 10, "clip": true}}
]
},
{
"width": 166, "height": 145,
"encoding": {
"x": {"field": "t", "type": "quantitative", "scale": {"domain": [-556, 940], "nice": false, "zero": false}, "axis": null},
"y": {"field": "k", "type": "quantitative", "scale": {"domain": [-2.75, 42.5625], "reverse": true, "nice": false, "zero": false}, "axis": null}
},
"layer": [
{"data": {"values": [{"t": -556, "t2": 935, "k": -2.6}]}, "mark": {"type": "rule", "color": "#1f1f1f", "strokeWidth": 1.8, "strokeDash": [7, 5]}, "encoding": {"x2": {"field": "t2"}}},
{"data": {"values": [{"t": 0, "t2": 250, "k": -0.25, "k2": 41.625}]}, "mark": {"type": "rect", "color": "#bcbcbf"}, "encoding": {"x2": {"field": "t2"}, "y2": {"field": "k2"}}},
{"data": {"values": [{"t": 500, "k": -0.25, "k2": 42.5625}]}, "mark": {"type": "rule", "color": "#8c8c8c", "strokeWidth": 2}, "encoding": {"y2": {"field": "k2"}}},
{"data": {"name": "rasRightPost"}, "transform": [{"flatten": ["t"]}], "mark": {"type": "circle", "color": "#1f1f1f", "opacity": 1, "size": 10, "clip": true}}
]
},
{
"width": 166, "height": 59,
"encoding": {
"x": {"field": "t", "type": "quantitative", "scale": {"domain": [-556, 940], "nice": false, "zero": false}, "axis": null},
"y": {"field": "h", "type": "quantitative", "scale": {"domain": [-1, 58], "nice": false, "zero": false}, "axis": null}
},
"layer": [
{"data": {"values": [{"t": 0, "t2": 250, "h": 0, "h2": 55}]}, "mark": {"type": "rect", "color": "#bcbcbf"}, "encoding": {"x2": {"field": "t2"}, "y2": {"field": "h2"}}},
{"data": {"values": [{"t": 500, "h": 0, "h2": 58}]}, "mark": {"type": "rule", "color": "#8c8c8c", "strokeWidth": 2}, "encoding": {"y2": {"field": "h2"}}},
{"data": {"name": "histRightBot"}, "mark": {"type": "area", "interpolate": "step-after", "color": "#1f1f1f", "opacity": 1, "clip": true}},
{"data": {"values": [{"t": -488, "t2": 935, "h": 0}]}, "mark": {"type": "rule", "color": "#1f1f1f", "strokeWidth": 2}, "encoding": {"x2": {"field": "t2"}}},
{"data": {"name": "histRightBot"}, "transform": [{"filter": "datum.s == 1"}], "mark": {"type": "circle", "color": "white", "opacity": 1, "size": 7, "xOffset": 2.8}, "encoding": {"y": {"datum": 15}}}
]
}
]
}
]
}
